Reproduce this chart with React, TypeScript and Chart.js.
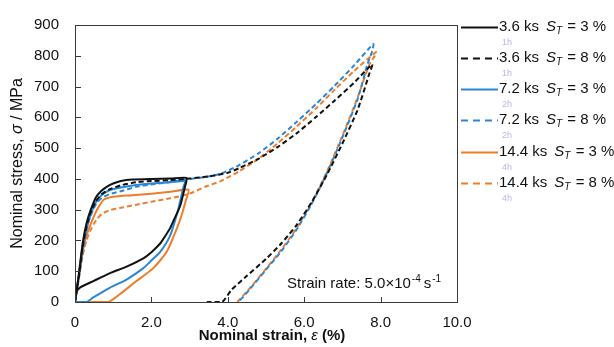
import React, { useEffect, useRef } from "react";
import { Chart, registerables } from "chart.js";

Chart.register(...registerables);

// ---- Data (strain %, stress MPa) ----
const blackSolidX = [0, 0.1, 0.2, 0.3, 0.4, 0.55, 0.7, 0.85, 1.0, 1.2, 1.5, 2.0, 2.5, 2.92, 2.88, 2.75, 2.6, 2.49, 2.35, 2.23, 2.0, 1.79, 1.35, 0.92, 0.48, 0.13, 0.02];
const blackSolidY = [0, 90, 190, 255, 295, 340, 362, 376, 385, 393, 398, 400, 401, 403, 375, 311, 270, 240, 212, 190, 162, 142, 115, 94, 68, 47, 33];

const blackDashX = [0, 0.1, 0.2, 0.3, 0.4, 0.55, 0.7, 0.9, 1.2, 1.6, 2.0, 2.5, 3.0, 3.5, 4.0, 4.3, 4.8, 5.3, 5.8, 6.3, 6.8, 7.3, 7.78, 7.7, 7.4, 7.0, 6.6, 6.2, 5.8, 5.4, 5.0, 4.5, 4.1, 3.85, 3.45];
const blackDashY = [0, 85, 180, 245, 288, 328, 350, 366, 379, 389, 393, 396, 401, 408, 420, 435, 465, 503, 548, 600, 655, 712, 772, 740, 625, 515, 415, 325, 250, 190, 140, 85, 40, 0, 0];

const blueSolidX = [0, 0.1, 0.2, 0.3, 0.4, 0.55, 0.7, 0.9, 1.2, 1.6, 2.0, 2.5, 2.88, 2.84, 2.7, 2.49, 2.23, 2.0, 1.79, 1.35, 0.92, 0.48, 0.3, 0.05];
const blueSolidY = [0, 80, 170, 235, 280, 325, 348, 363, 372, 380, 385, 389, 393, 374, 300, 216, 163, 135, 110, 73, 47, 15, 0, 0];

const blueDashX = [0, 0.1, 0.2, 0.3, 0.4, 0.55, 0.7, 0.9, 1.2, 1.6, 2.0, 2.5, 2.9, 3.4, 3.8, 4.3, 4.8, 5.3, 5.8, 6.3, 6.8, 7.3, 7.81, 7.78, 7.65, 7.4, 7.0, 6.6, 6.2, 5.8, 5.4, 5.0, 4.6, 4.28];
const blueDashY = [0, 80, 170, 235, 278, 318, 338, 350, 360, 374, 382, 390, 398, 406, 416, 445, 483, 530, 585, 642, 703, 768, 838, 815, 770, 660, 535, 420, 320, 235, 165, 105, 45, 0];

const orangeSolidX = [0, 0.1, 0.2, 0.3, 0.4, 0.5, 0.6, 0.75, 1.0, 1.5, 2.0, 2.5, 2.97, 2.9, 2.8, 2.66, 2.4, 2.05, 1.61, 1.18, 0.87, 0];
const orangeSolidY = [0, 80, 160, 215, 250, 280, 305, 332, 342, 347, 352, 358, 365, 330, 285, 237, 163, 110, 68, 26, 0, 0];

const orangeDashX = [0, 0.1, 0.2, 0.3, 0.4, 0.55, 0.7, 0.9, 1.2, 1.6, 2.0, 2.5, 3.0, 3.4, 3.8, 4.3, 4.8, 5.3, 5.8, 6.3, 6.8, 7.3, 7.88, 7.85, 7.7, 7.4, 7.0, 6.6, 6.2, 5.8, 5.4, 5.0, 4.6, 4.25];
const orangeDashY = [0, 75, 150, 200, 232, 265, 286, 298, 306, 316, 326, 337, 352, 374, 392, 425, 465, 515, 570, 628, 690, 750, 812, 800, 770, 665, 540, 425, 325, 240, 170, 108, 48, 0];

const legendTimes = ["3.6 ks", "3.6 ks", "7.2 ks", "7.2 ks", "14.4 ks", "14.4 ks"];
const legendST = ["3 %", "8 %", "3 %", "8 %", "3 %", "8 %"];
const legendGhost = ["1h", "1h", "2h", "2h", "4h", "4h"];

const xTickValues = [0, 2, 4, 6, 8, 10];
const xTickLabels = ["0", "2.0", "4.0", "6.0", "8.0", "10.0"];

const BLACK = "#111111";
const BLUE = "#2a86d4";
const ORANGE = "#ee7d2b";

const FONT = "'Liberation Sans', Arial, sans-serif";

function pts(xs: number[], ys: number[]) {
  return xs.map((x, i) => ({ x, y: ys[i] }));
}

const seriesStyle = [
  { color: BLACK, dash: false },
  { color: BLACK, dash: true },
  { color: BLUE, dash: false },
  { color: BLUE, dash: true },
  { color: ORANGE, dash: false },
  { color: ORANGE, dash: true },
];

const decorPlugin = {
  id: "decor",
  afterDraw(chart: any) {
    const ctx = chart.ctx as CanvasRenderingContext2D;
    const ca = chart.chartArea;
    const xs = chart.scales.x;
    const ys = chart.scales.y;
    ctx.save();
    // frame
    ctx.strokeStyle = "#3a3a3a";
    ctx.lineWidth = 1;
    ctx.strokeRect(Math.round(ca.left) + 0.5, Math.round(ca.top) + 0.5, Math.round(ca.right - ca.left), Math.round(ca.bottom - ca.top));
    // inward ticks
    ctx.beginPath();
    for (const v of xTickValues) {
      const px = Math.round(xs.getPixelForValue(v)) + 0.5;
      ctx.moveTo(px, ca.bottom);
      ctx.lineTo(px, ca.bottom - 5);
    }
    for (let v = 0; v <= 900; v += 100) {
      const py = Math.round(ys.getPixelForValue(v)) + 0.5;
      ctx.moveTo(ca.left, py);
      ctx.lineTo(ca.left + 6, py);
    }
    ctx.stroke();

    ctx.fillStyle = "#111";
    ctx.textBaseline = "middle";

    // Y title
    ctx.save();
    ctx.translate(18, (ca.top + ca.bottom) / 2);
    ctx.rotate(-Math.PI / 2);
    const yParts: [string, string][] = [
      ["Nominal stress, ", `16px ${FONT}`],
      ["\u03c3", `italic 16px ${FONT}`],
      [" / MPa", `16px ${FONT}`],
    ];
    let tw = 0;
    for (const [t, f] of yParts) { ctx.font = f; tw += ctx.measureText(t).width; }
    let cx = -tw / 2;
    ctx.textAlign = "left";
    for (const [t, f] of yParts) { ctx.font = f; ctx.fillText(t, cx, 0); cx += ctx.measureText(t).width; }
    ctx.restore();

    // X title
    const xParts: [string, string][] = [
      ["Nominal strain, ", `bold 15px ${FONT}`],
      ["\u03b5", `italic 15px ${FONT}`],
      [" (%)", `bold 15px ${FONT}`],
    ];
    tw = 0;
    for (const [t, f] of xParts) { ctx.font = f; tw += ctx.measureText(t).width; }
    cx = 272 - tw / 2;
    ctx.textAlign = "left";
    for (const [t, f] of xParts) { ctx.font = f; ctx.fillText(t, cx, 336); cx += ctx.measureText(t).width; }

    // Annotation
    {
      let ax = 287;
      const ay = 284;
      ctx.font = `15px ${FONT}`;
      const a1 = "Strain rate: 5.0\u00d710";
      ctx.fillText(a1, ax, ay); ax += ctx.measureText(a1).width;
      ctx.font = `10px ${FONT}`;
      ctx.fillText("-4", ax + 1, ay - 5); ax += ctx.measureText("-4").width + 4;
      ctx.font = `15px ${FONT}`;
      ctx.fillText("s", ax, ay); ax += ctx.measureText("s").width;
      ctx.font = `10px ${FONT}`;
      ctx.fillText("-1", ax + 1, ay - 5);
    }

    // Legend
    const rowY = [27, 58, 89, 120, 152, 183];
    for (let i = 0; i < 6; i++) {
      const y = rowY[i];
      const st = seriesStyle[i];
      ctx.beginPath();
      ctx.strokeStyle = st.color;
      ctx.lineWidth = 2;
      ctx.setLineDash(st.dash ? [7, 5] : []);
      ctx.moveTo(461, y + 0.5);
      ctx.lineTo(498, y + 0.5);
      ctx.stroke();
      ctx.setLineDash([]);
      // ghost text
      ctx.font = `9px ${FONT}`;
      ctx.fillStyle = "rgba(120,110,200,0.5)";
      ctx.fillText(legendGhost[i], 502, y + 16);
      ctx.fillStyle = "#111";
      let lx = 499;
      ctx.font = `15px ${FONT}`;
      ctx.fillText(legendTimes[i], lx, y);
      lx += ctx.measureText(legendTimes[i]).width + 7;
      ctx.font = `italic 15px ${FONT}`;
      ctx.fillText("S", lx, y);
      lx += ctx.measureText("S").width;
      ctx.font = `italic 10px ${FONT}`;
      ctx.fillText("T", lx, y + 4);
      lx += ctx.measureText("T").width + 1;
      ctx.font = `15px ${FONT}`;
      const rest = " = " + legendST[i];
      ctx.fillText(rest, lx, y);
    }
    ctx.restore();
  },
};

export default function App() {
  const ref = useRef<HTMLCanvasElement | null>(null);
  useEffect(() => {
    document.body.style.margin = "0";
    const canvas = ref.current;
    if (!canvas) return;
    const seriesData = [
      pts(blackSolidX, blackSolidY),
      pts(blackDashX, blackDashY),
      pts(blueSolidX, blueSolidY),
      pts(blueDashX, blueDashY),
      pts(orangeSolidX, orangeSolidY),
      pts(orangeDashX, orangeDashY),
    ];
    const chart = new Chart(canvas, {
      type: "scatter",
      data: {
        datasets: seriesData.map((d, i) => ({
          label: legendTimes[i] + " ST=" + legendST[i],
          data: d,
          showLine: true,
          borderColor: seriesStyle[i].color,
          backgroundColor: seriesStyle[i].color,
          borderWidth: 2,
          borderDash: seriesStyle[i].dash ? [5, 3] : [],
          pointRadius: 0,
          tension: 0.2,
          fill: false,
        })),
      },
      options: {
        animation: false,
        responsive: true,
        maintainAspectRatio: false,
        layout: { padding: { left: 0, right: 157, top: 17, bottom: 0 } },
        plugins: { legend: { display: false }, tooltip: { enabled: false } },
        scales: {
          x: {
            type: "linear",
            min: 0,
            max: 10,
            afterFit: (s: any) => { s.height = 45; },
            afterBuildTicks: (s: any) => { s.ticks = xTickValues.map((v) => ({ value: v })); },
            grid: { display: false, drawTicks: false },
            border: { display: true, color: "#3a3a3a" },
            ticks: {
              padding: 12,
              color: "#111",
              font: { family: FONT, size: 15 },
              callback: (v: any) => xTickLabels[xTickValues.indexOf(Number(v))] ?? "",
            },
          },
          y: {
            type: "linear",
            min: 0,
            max: 900,
            afterFit: (s: any) => { s.width = 75; },
            grid: { display: false, drawTicks: false },
            border: { display: true, color: "#3a3a3a" },
            ticks: {
              stepSize: 100,
              padding: 16,
              color: "#111",
              font: { family: FONT, size: 15 },
            },
          },
        },
      },
      plugins: [decorPlugin],
    } as any);
    return () => chart.destroy();
  }, []);
  return (
    <div style={{ width: 614, height: 347, position: "relative", background: "#fff" }}>
      <canvas ref={ref} />
    </div>
  );
}
